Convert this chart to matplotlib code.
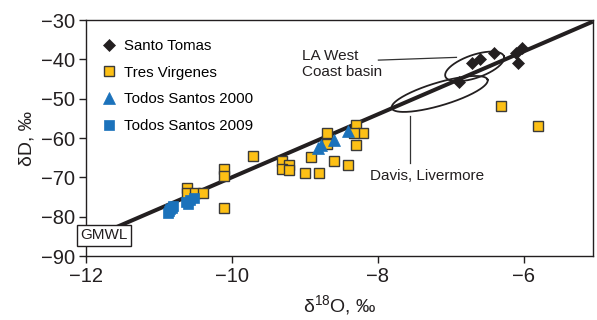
import numpy as np
import matplotlib
matplotlib.use('Agg')
import matplotlib.pyplot as plt

plt.rcParams['font.family'] = ['Liberation Sans', 'DejaVu Sans']
plt.rcParams['mathtext.default'] = 'regular'

# Santo Tomas
st_x = [-6.89, -6.70, -6.60, -6.40, -6.11, -6.02, -6.07]
st_y = [-45.7, -41.0, -40.0, -38.5, -38.5, -37.2, -41.0]

# Tres Virgenes
tv_x = [-6.31, -5.80, -8.30, -8.20, -8.32, -8.30, -8.70, -8.70, -8.91, -8.60, -8.41,
        -9.00, -8.80, -9.31, -9.21, -9.31, -9.21, -9.71, -10.11, -10.11, -10.11,
        -10.61, -10.61, -10.51, -10.40]
tv_y = [-51.9, -57.0, -56.8, -58.8, -58.8, -61.9, -58.8, -61.6, -64.8, -65.9, -66.8,
        -68.8, -68.8, -65.9, -66.8, -68.0, -68.2, -64.7, -67.8, -69.7, -77.9,
        -72.7, -73.9, -73.9, -73.9]

# Todos Santos 2000
ts0_x = [-8.82, -8.78, -8.60, -8.41]
ts0_y = [-62.5, -61.8, -60.5, -58.2]

# Todos Santos 2009
ts9_x = [-10.88, -10.85, -10.86, -10.82, -10.80, -10.63, -10.60, -10.58, -10.52]
ts9_y = [-79.0, -78.0, -78.6, -77.8, -77.2, -76.2, -76.8, -75.8, -75.2]

# global meteoric water line dD = 8 d18O + 10
gmwl_x = np.array([-11.58, -5.05])
gmwl_y = 8 * gmwl_x + 10

fig = plt.figure(figsize=(5.97, 3.2), dpi=100)
ax = fig.add_axes([0.144, 0.2, 0.849, 0.7375])

ax.plot(gmwl_x, gmwl_y, color='#231f20', lw=2.9, zorder=3, solid_capstyle='butt')

ax.plot(tv_x, tv_y, 's', ms=7, mfc='#fdc015', mec='#3a3a3a', mew=1.0,
        ls='none', label='Tres Virgenes', zorder=4)
ax.plot(ts9_x, ts9_y, 's', ms=7.5, mfc='#1b72bb', mec='#1b72bb', mew=0.5,
        ls='none', label='Todos Santos 2009', zorder=5)
ax.plot(ts0_x, ts0_y, '^', ms=9, mfc='#1b72bb', mec='#1b72bb', mew=0.5,
        ls='none', label='Todos Santos 2000', zorder=5)
ax.plot(st_x, st_y, 'D', ms=6, mfc='#231f20', mec='#231f20', mew=0.5,
        ls='none', label='Santo Tomas', zorder=6)

# ellipses (drawn in pixel proportions, converted back to data units)
sx = 507 / 6.95   # px per unit x
sy = 236 / 60.0   # px per unit y

def ellipse(cx, cy, a, b, ang):
    t = np.linspace(0, 2 * np.pi, 200)
    r = np.deg2rad(ang)
    px = a * np.cos(t) * np.cos(r) - b * np.sin(t) * np.sin(r)
    py = a * np.cos(t) * np.sin(r) + b * np.sin(t) * np.cos(r)
    return cx + px / sx, cy + py / sy

ex, ey = ellipse(-6.67, -41.8, 31, 11.5, 19)
ax.plot(ex, ey, color='#231f20', lw=1.3, zorder=4)
ex, ey = ellipse(-7.15, -48.8, 50, 11.5, 16.5)
ax.plot(ex, ey, color='#231f20', lw=1.3, zorder=4)

# leader lines and labels
ax.plot([-7.99, -6.92], [-40.2, -39.5], color='#333333', lw=0.9, zorder=2)
ax.plot([-7.56, -7.56], [-54.4, -66.4], color='#333333', lw=0.9, zorder=2)
ax.text(-9.04, -37.4, 'LA West\nCoast basin', fontsize=11, color='#231f20',
        ha='left', va='top', linespacing=1.15)
ax.text(-8.11, -67.8, 'Davis, Livermore', fontsize=11, color='#231f20',
        ha='left', va='top')
ax.text(-11.75, -84.7, 'GMWL', fontsize=11, color='#231f20', ha='center', va='center',
        zorder=7, clip_on=False,
        bbox=dict(boxstyle='square,pad=0.22', fc='white', ec='#231f20', lw=1.0))

ax.set_xlim(-12, -5.05)
ax.set_ylim(-90, -30)
ax.set_xticks([-12, -10, -8, -6])
ax.set_yticks([-90, -80, -70, -60, -50, -40, -30])
for s in ax.spines.values():
    s.set_color('#231f20')
    s.set_linewidth(1.0)
ax.tick_params(direction='out', length=5, width=1.0, color='#231f20',
               labelsize=14.5, labelcolor='#231f20', pad=3)

ax.set_xlabel('δ$^{18}$O, ‰', fontsize=14, color='#231f20', labelpad=5)
ax.set_ylabel('δD, ‰', fontsize=14, color='#231f20', labelpad=4)

h, l = ax.get_legend_handles_labels()
order = [3, 0, 2, 1]
ax.legend([h[i] for i in order], [l[i] for i in order], loc='upper left',
          bbox_to_anchor=(0.01, 0.965), frameon=False, fontsize=10.8,
          handlelength=1.0, handletextpad=0.5, labelspacing=0.85, borderaxespad=0.3)

fig.savefig('out.png', dpi=100)
